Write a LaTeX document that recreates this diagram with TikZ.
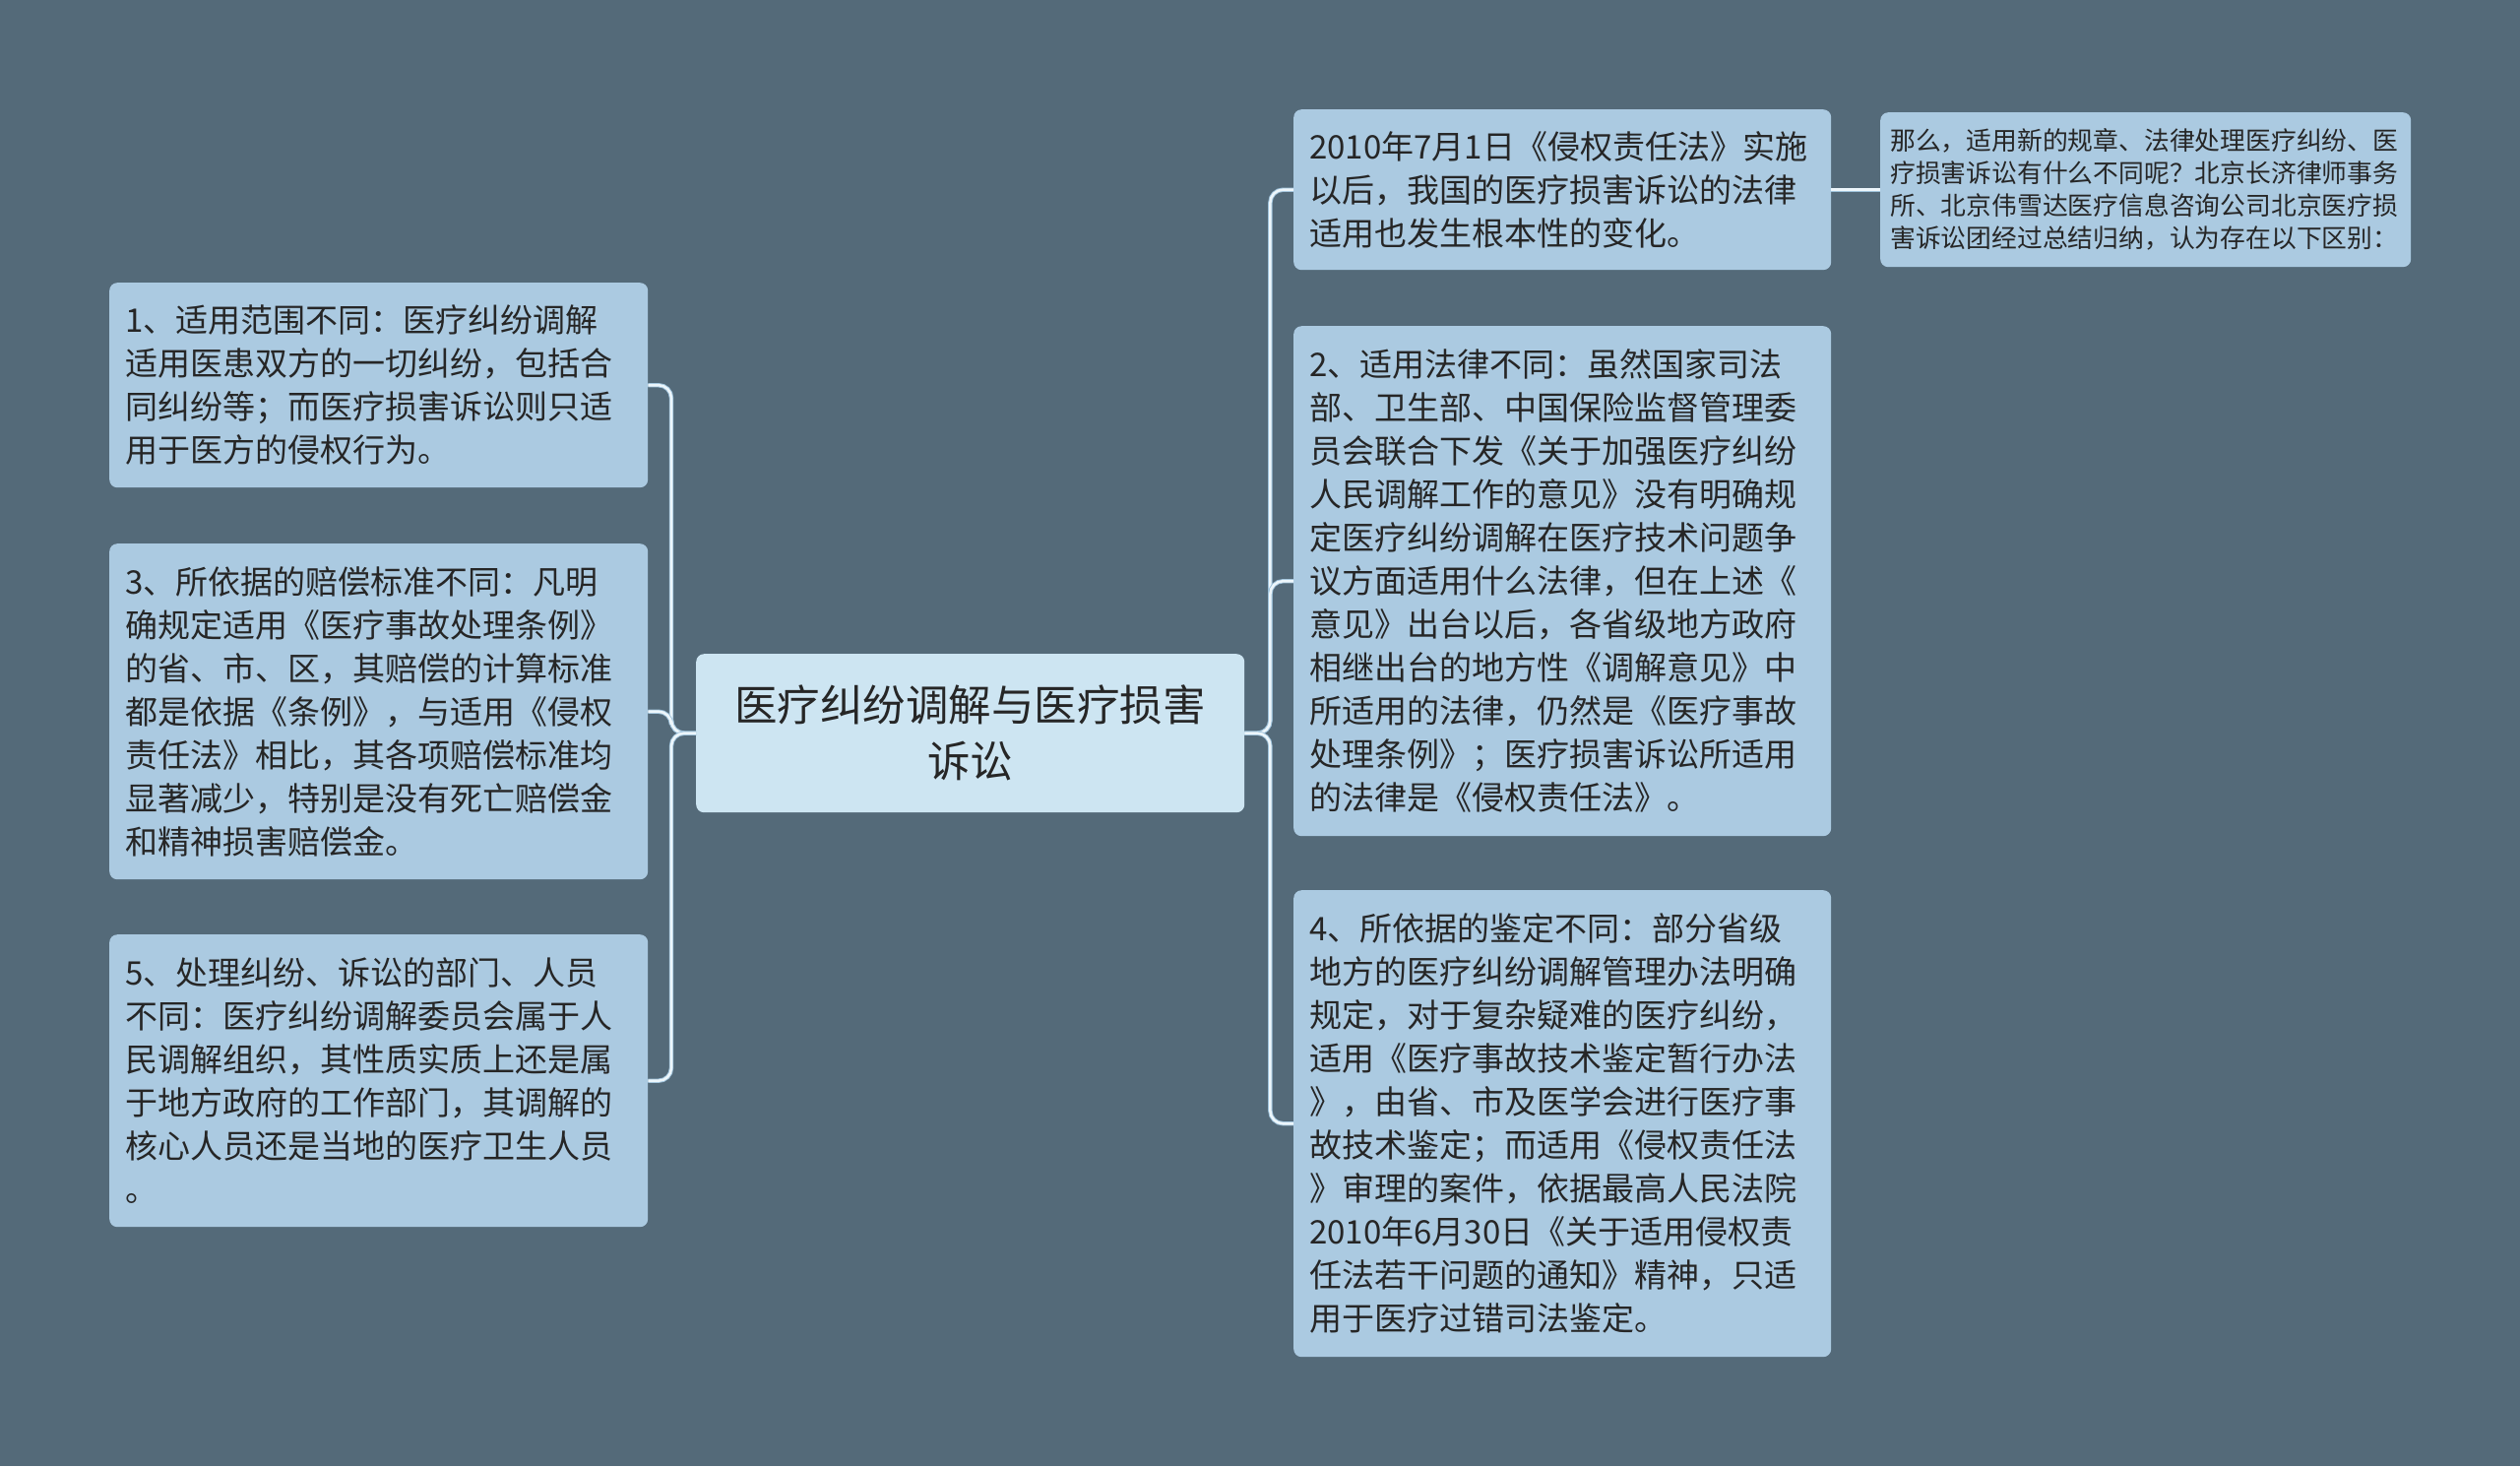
\documentclass[tikz,border=0pt]{standalone}
\usepackage{fontspec}
\setmainfont{Noto Sans CJK SC}
\definecolor{bg}{HTML}{546A79}
\definecolor{boxfill}{HTML}{ABCAE1}
\definecolor{rootfill}{HTML}{CDE5F2}
\definecolor{txt}{HTML}{262626}
\definecolor{lineedge}{HTML}{9EC2DB}
\definecolor{linemid}{HTML}{EDF6FB}
\tikzset{
  leaf/.style={draw=none, fill=boxfill, rounded corners=8pt, anchor=north west,
    inner xsep=16pt, inner ysep=0pt, align=left, text=txt,
    font=\fontsize{33}{44}\selectfont},
  smallleaf/.style={draw=none, fill=boxfill, rounded corners=8pt, anchor=north west,
    inner xsep=10pt, inner ysep=0pt, align=left, text=txt,
    font=\fontsize{25.8}{33}\selectfont},
  rootbox/.style={draw=none, fill=rootfill, rounded corners=8pt, anchor=north west,
    inner xsep=10pt, inner ysep=0pt, align=center, text=txt,
    font=\fontsize{43.5}{57}\selectfont},
  conn/.style={draw=lineedge, line width=0.9pt, double=linemid, double distance=2.6pt, rounded corners=13pt}
}
\begin{document}
\begin{tikzpicture}[x=1pt,y=-1pt]
\fill[bg] (0,0) rectangle (2560,1489);
\useasboundingbox (0,0) rectangle (2560,1489);

% root
\node[rootbox, text width=537pt, minimum height=161pt] (root) at (707,664)
  {医疗纠纷调解与医疗损害\\诉讼};

% right side
\node[leaf, text width=514pt, minimum height=163pt] (nA) at (1314,111)
  {2010年7月1日《侵权责任法》实施\\以后，我国的医疗损害诉讼的法律\\适用也发生根本性的变化。};
\node[smallleaf, text width=519pt, minimum height=157pt] (nAA) at (1910,114)
  {那么，适用新的规章、法律处理医疗纠纷、医\\疗损害诉讼有什么不同呢？北京长济律师事务\\所、北京伟雪达医疗信息咨询公司北京医疗损\\害诉讼团经过总结归纳，认为存在以下区别：};
\node[leaf, text width=514pt, minimum height=518pt] (n2) at (1314,331)
  {2、适用法律不同：虽然国家司法\\部、卫生部、中国保险监督管理委\\员会联合下发《关于加强医疗纠纷\\人民调解工作的意见》没有明确规\\定医疗纠纷调解在医疗技术问题争\\议方面适用什么法律，但在上述《\\意见》出台以后，各省级地方政府\\相继出台的地方性《调解意见》中\\所适用的法律，仍然是《医疗事故\\处理条例》；医疗损害诉讼所适用\\的法律是《侵权责任法》。};
\node[leaf, text width=514pt, minimum height=474pt] (n4) at (1314,904)
  {4、所依据的鉴定不同：部分省级\\地方的医疗纠纷调解管理办法明确\\规定，对于复杂疑难的医疗纠纷，\\适用《医疗事故技术鉴定暂行办法\\》，由省、市及医学会进行医疗事\\故技术鉴定；而适用《侵权责任法\\》审理的案件，依据最高人民法院\\2010年6月30日《关于适用侵权责\\任法若干问题的通知》精神，只适\\用于医疗过错司法鉴定。};

% left side
\node[leaf, text width=515pt, minimum height=208pt] (n1) at (111,287)
  {1、适用范围不同：医疗纠纷调解\\适用医患双方的一切纠纷，包括合\\同纠纷等；而医疗损害诉讼则只适\\用于医方的侵权行为。};
\node[leaf, text width=515pt, minimum height=341pt] (n3) at (111,552)
  {3、所依据的赔偿标准不同：凡明\\确规定适用《医疗事故处理条例》\\的省、市、区，其赔偿的计算标准\\都是依据《条例》，与适用《侵权\\责任法》相比，其各项赔偿标准均\\显著减少，特别是没有死亡赔偿金\\和精神损害赔偿金。};
\node[leaf, text width=515pt, minimum height=297pt] (n5) at (111,949)
  {5、处理纠纷、诉讼的部门、人员\\不同：医疗纠纷调解委员会属于人\\民调解组织，其性质实质上还是属\\于地方政府的工作部门，其调解的\\核心人员还是当地的医疗卫生人员\\。};

% connectors right
\coordinate (rj) at ([xshift=26pt]root.east);
\draw[conn] (root.east) -- (rj) |- (nA.west);
\draw[conn] (root.east) -- (rj) |- (n2.west);
\draw[conn] (root.east) -- (rj) |- (n4.west);
\draw[conn] (nA.east) -- (nAA.west);

% connectors left
\coordinate (lj) at ([xshift=-25pt]root.west);
\draw[conn] (root.west) -- (lj) |- (n1.east);
\draw[conn] (root.west) -- (lj) |- (n3.east);
\draw[conn] (root.west) -- (lj) |- (n5.east);
\end{tikzpicture}
\end{document}
